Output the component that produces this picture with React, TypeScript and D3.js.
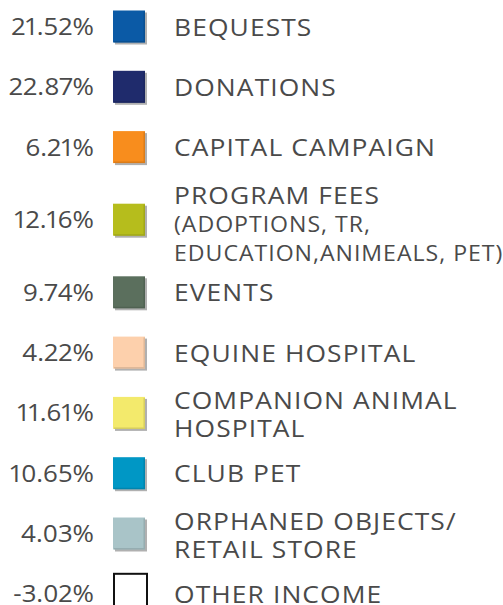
import React, { useEffect, useRef } from "react";
import * as d3 from "d3";

const categories = [
  "BEQUESTS",
  "DONATIONS",
  "CAPITAL CAMPAIGN",
  "PROGRAM FEES",
  "EVENTS",
  "EQUINE HOSPITAL",
  "COMPANION ANIMAL|HOSPITAL",
  "CLUB PET",
  "ORPHANED OBJECTS/|RETAIL STORE",
  "OTHER INCOME",
];
const notes = ["", "", "", "(ADOPTIONS, TR,|EDUCATION,ANIMEALS, PET)", "", "", "", "", "", ""];
const shares = [21.52, 22.87, 6.21, 12.16, 9.74, 4.22, 11.61, 10.65, 4.03, -3.02];
const swatches = [
  "#0b5aa6",
  "#1f2b6c",
  "#f88d1d",
  "#b6bd1c",
  "#5b6f5d",
  "#fdd0ac",
  "#f3ea6c",
  "#0097c5",
  "#a9c4c8",
  "none",
];

const W = 503;
const H = 605;

export default function App() {
  const ref = useRef<SVGSVGElement | null>(null);

  useEffect(() => {
    const svg = d3.select(ref.current);
    svg.selectAll("*").remove();

    const rows = categories.map((c, i) => {
      const main = c.split("|");
      const sub = notes[i] ? notes[i].split("|") : [];
      return { i, main, sub, n: main.length + sub.length, value: shares[i], color: swatches[i] };
    });

    // cumulative slot units: rows with 3+ lines take extra room
    const extra = (n: number) => (n >= 3 ? 0.204 : 0);
    let u = 0;
    const units: number[] = [];
    rows.forEach((r, i) => {
      if (i > 0) u += 1 + extra(rows[i - 1].n) + extra(r.n);
      units.push(u);
    });
    const y = d3.scaleLinear().domain([0, 1]).range([26.5, 86.8]);

    const pctX = 94;
    const swX = 113;
    const swS = 32;
    const labelX = 174;
    const fmt = (v: number) => d3.format(".2f")(v).replace("\u2212", "-") + "%";

    const g = svg
      .selectAll("g.row")
      .data(rows)
      .join("g")
      .attr("class", "row")
      .attr("transform", (d) => `translate(0,${y(units[d.i])})`);

    g.append("text")
      .attr("transform", `translate(${pctX},8.5) scale(1.08,1)`)
      .attr("text-anchor", "end")
      .attr("font-family", "'Open Sans', sans-serif")
      .attr("font-size", 24)
      .style("font-variant-numeric", "proportional-nums")
      .style("font-feature-settings", "'pnum' 1")
      .attr("fill", "#4a4a4a")
      .text((d) => fmt(d.value));

    // swatches
    g.each(function (d) {
      const s = d3.select(this);
      if (d.color === "none") {
        s.append("rect")
          .attr("x", swX + 1)
          .attr("y", -swS / 2 - 4)
          .attr("width", swS + 1)
          .attr("height", swS + 6)
          .attr("fill", "#fff")
          .attr("stroke", "#111")
          .attr("stroke-width", 2);
      } else {
        s.append("rect")
          .attr("x", swX + 2)
          .attr("y", -swS / 2 + 2)
          .attr("width", swS)
          .attr("height", swS)
          .attr("fill", "#b0b0b0");
        s.append("rect")
          .attr("x", swX)
          .attr("y", -swS / 2)
          .attr("width", swS)
          .attr("height", swS)
          .attr("fill", d.color);
        const dark = d3.color(d.color)!.darker(0.6).formatHex();
        s.append("path")
          .attr(
            "d",
            `M${swX + swS - 0.75},${-swS / 2 + 1}V${swS / 2 - 0.75}H${swX + 1}`
          )
          .attr("fill", "none")
          .attr("stroke", dark)
          .attr("stroke-width", 1.5)
          .attr("opacity", 0.6);
      }
    });

    // labels
    g.each(function (d) {
      const s = d3.select(this);
      const lines = [
        ...d.main.map((t) => ({ t, sub: false })),
        ...d.sub.map((t) => ({ t, sub: true })),
      ];
      const b1 = 9 - (d.n - 1) * 12.5;
      const step = d.n >= 3 ? 28.5 : 27.5;
      lines.forEach((ln, k) => {
        s.append("text")
          .attr("transform", `translate(${labelX},${b1 + k * step}) scale(1.1,1)`)
          .attr("font-family", "'Open Sans', sans-serif")
          .attr("font-size", ln.sub ? 21 : 24)
          .attr("letter-spacing", ln.sub ? 0.9 : 1)
          .attr("fill", "#4a4a4a")
          .text(ln.t);
      });
    });
  }, []);

  return (
    <svg
      ref={ref}
      width={W}
      height={H}
      style={{ position: "absolute", left: 0, top: 0, background: "#fff" }}
    />
  );
}
